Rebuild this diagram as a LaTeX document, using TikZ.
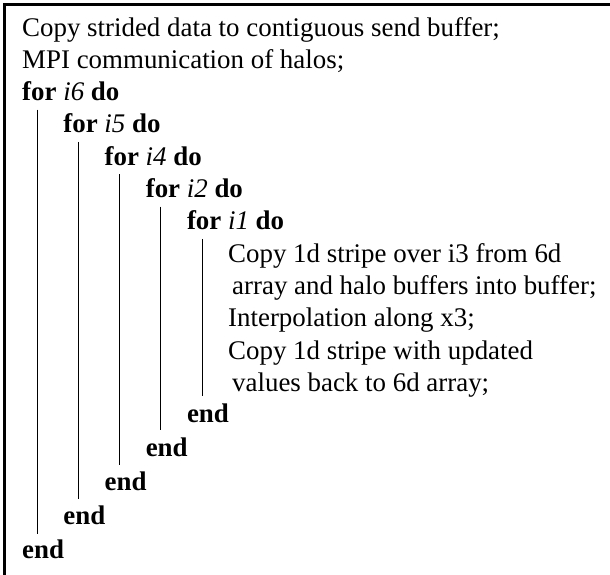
\documentclass[tikz,border=0pt]{standalone}
\usepackage{fontspec}
\setmainfont{Liberation Serif}

\tikzset{
	algline/.style={anchor=base west, inner sep=0pt, font=\fontsize{26.9}{32}\selectfont},
	algbar/.style={line width=0.9pt}
}
\newcommand\kw[1]{\textbf{#1}}

\begin{document}
\begin{tikzpicture}[x=1pt, y=1pt]
	\newcommand\lh{32.3}
	\newcommand\ind{41.2}

	% 画布大小
	\useasboundingbox (0, 0) rectangle (610, -574);

	% 外框 (只看到上边与左边)
	\draw[line width=2.8pt] (4.8, -600) -- (4.8, -4.2) -- (640, -4.2);

	% 前两行
	\node[algline] (copy) at (22, -36) {Copy strided data to contiguous send buffer;};
	\node[algline] (mpi) at (22, -36-\lh) {MPI communication of halos;};

	% for 循环头
	\node[algline] (fsix) at (22+0*\ind, -36-2*\lh) {\kw{for} \textit{i6} \kw{do}};
	\node[algline] (ffive) at (22+1*\ind, -36-3*\lh) {\kw{for} \textit{i5} \kw{do}};
	\node[algline] (ffour) at (22+2*\ind, -36-4*\lh) {\kw{for} \textit{i4} \kw{do}};
	\node[algline] (ftwo) at (22+3*\ind, -36-5*\lh) {\kw{for} \textit{i2} \kw{do}};
	\node[algline] (fone) at (22+4*\ind, -36-6*\lh) {\kw{for} \textit{i1} \kw{do}};

	% 最内层的语句
	\node[algline] (stripe) at (22+5*\ind, -36-7*\lh) {Copy 1d stripe over i3 from 6d};
	\node[algline] (stripeb) at (26+5*\ind, -36-8*\lh) {array and halo buffers into buffer;};
	\node[algline] (interp) at (22+5*\ind, -36-9*\lh) {Interpolation along x3;};
	\node[algline] (back) at (22+5*\ind, -36-10*\lh) {Copy 1d stripe with updated};
	\node[algline] (backb) at (26+5*\ind, -36-11*\lh) {values back to 6d array;};

	% 各层的 end
	\node[algline] (eone) at (22+4*\ind, -422) {\kw{end}};
	\node[algline] (etwo) at (22+3*\ind, -456) {\kw{end}};
	\node[algline] (efour) at (22+2*\ind, -490) {\kw{end}};
	\node[algline] (efive) at (22+1*\ind, -524) {\kw{end}};
	\node[algline] (esix) at (22+0*\ind, -558) {\kw{end}};

	% 竖线
	\foreach \i/\bot in {0/534, 1/499, 2/465, 3/430, 4/396}
		\draw[algbar] (37.3+\i*\ind, -45-2*\lh-\i*\lh) -- (37.3+\i*\ind, -\bot);
\end{tikzpicture}
\end{document}
